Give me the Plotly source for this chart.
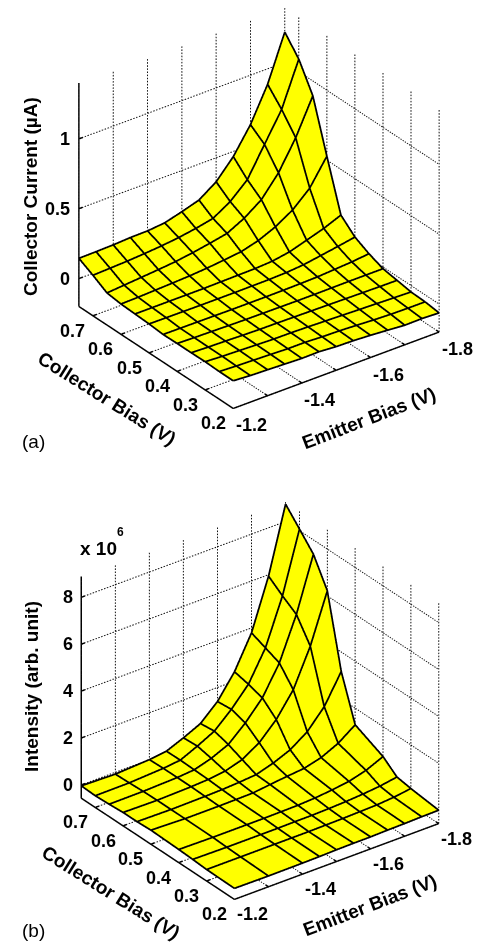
import plotly.graph_objects as go

W, H = 478, 945
FONT = "Liberation Sans"

emitter_a = [-1.2, -1.25, -1.3, -1.35, -1.4, -1.45, -1.5, -1.55, -1.6, -1.65, -1.7, -1.75, -1.8]
collector_a = [0.75, 0.7, 0.65, 0.6, 0.55, 0.5, 0.45, 0.4, 0.35, 0.3, 0.25, 0.2]
current = [
    [.145, .147, .150, .157, .159, .171, .205, .243, .328, .463, .646, .889, 1.217],
    [.090, .095, .100, .108, .118, .132, .152, .178, .253, .364, .571, .776, 1.090],
    [.030, .040, .050, .060, .072, .090, .112, .137, .200, .287, .434, .639, .894],
    [.017, .020, .025, .030, .036, .045, .058, .072, .106, .159, .234, .345, .528],
    [.012, .012, .012, .012, .012, .014, .016, .018, .025, .046, .084, .123, .173],
    [.007, .006, .005, .004, .004, .004, .005, .006, .010, .020, .040, .060, .082],
    [-.002, -.003, -.004, -.005, -.006, -.006, -.006, -.005, -.003, .000, .008, .016, .029],
    [.000, -.004, -.006, -.009, -.011, -.012, -.013, -.014, -.014, -.013, -.012, -.012, -.012],
    [.000, -.005, -.008, -.012, -.015, -.016, -.018, -.020, -.022, -.024, -.026, -.028, -.029],
    [.002, -.005, -.009, -.014, -.018, -.019, -.022, -.026, -.030, -.034, -.038, -.042, -.046],
    [-.002, -.008, -.012, -.016, -.021, -.021, -.027, -.030, -.036, -.043, -.048, -.050, -.050],
    [-.002, -.010, -.014, -.019, -.024, -.022, -.031, -.034, -.041, -.050, -.060, -.058, -.063],
]

emitter_b = [-1.2, -1.3, -1.4, -1.45, -1.5, -1.55, -1.6, -1.65, -1.7, -1.75, -1.8]
collector_b = [0.75, 0.7, 0.65, 0.6, 0.55, 0.5, 0.4, 0.35, 0.3, 0.2]
intensity = [
    [-.04, -.08, .00, .09, .39, .73, 1.40, 2.40, 3.79, 5.94, 8.74],
    [-.07, -.06, .02, .10, .43, .80, 1.46, 2.26, 3.54, 5.49, 8.07],
    [-.04, -.03, .02, .08, .30, .62, 1.27, 2.07, 3.29, 5.09, 7.39],
    [.00, -.02, .02, .06, .15, .37, .82, 1.54, 2.54, 4.13, 6.22],
    [.00, -.02, .00, .02, .06, .12, .34, .64, 1.14, 1.94, 3.17],
    [.03, -.02, -.02, -.01, .00, .09, .17, .24, .43, .77, 1.29],
    [-.01, -.03, -.03, -.03, -.02, -.01, .03, .10, .20, .40, .72],
    [-.04, -.06, -.06, -.06, -.05, -.05, -.03, .00, .05, .12, .24],
    [-.08, -.08, -.08, -.08, -.08, -.07, -.06, -.04, -.02, .04, .14],
    [-.10, -.11, -.10, -.09, -.07, -.06, -.06, -.04, -.03, -.01, .00],
]

emitter_ticks = [-1.2, -1.3, -1.4, -1.5, -1.6, -1.7, -1.8]
emitter_labels = ["-1.2", "", "-1.4", "", "-1.6", "", "-1.8"]
collector_ticks = [0.2, 0.3, 0.4, 0.5, 0.6, 0.7]
current_ticks = [0, 0.5, 1]
intensity_ticks = [0, 2, 4, 6, 8]
collector_lim = [0.2, 0.75]
emitter_lim = [-1.2, -1.8]
current_lim = [-0.2, 1.4]
intensity_lim = [-0.57, 8.89]
DOTS = 72
PAD = 0.02
EYE = (-0.521, -0.695, 0.495)


def px(x, y):
    return x / W, 1 - y / H


def seg(pieces):
    xs, ys, zs = [], [], []
    for a, b in pieces:
        xs += [a[0], b[0], None]
        ys += [a[1], b[1], None]
        zs += [a[2], b[2], None]
    return xs, ys, zs


def dotted(pieces):
    out = []
    for a, b in pieces:
        for k in range(DOTS):
            t0, t1 = k / DOTS, (k + 0.5) / DOTS
            out.append((tuple(a[m] + (b[m] - a[m]) * t0 for m in range(3)),
                        tuple(a[m] + (b[m] - a[m]) * t1 for m in range(3))))
    return out


def line_trace(pieces, scene, width, color="black"):
    x, y, z = seg(pieces)
    return go.Scatter3d(x=x, y=y, z=z, mode="lines", scene=scene, showlegend=False, hoverinfo="skip",
                        line=dict(color=color, width=width), connectgaps=False)


def panel(fig, scene, E, C, Z, zticks, zlim):
    e0, e1 = emitter_lim
    c0, c1 = collector_lim
    z0, z1 = zlim
    grid = []
    for e in emitter_ticks:
        grid.append(((e, c1, z0), (e, c1, z1)))
        grid.append(((e, c0, z0), (e, c1, z0)))
    for c in collector_ticks:
        grid.append(((e1, c, z0), (e1, c, z1)))
        grid.append(((e0, c, z0), (e1, c, z0)))
    for z in zticks:
        grid.append(((e0, c1, z), (e1, c1, z)))
        grid.append(((e1, c1, z), (e1, c0, z)))
    fig.add_trace(line_trace(dotted(grid), scene, 2, "#111111"))

    de = (e1 - e0) * 0.018
    dc = (c1 - c0) * 0.018
    axes = [((e0, c1, z0), (e0, c1, z1)), ((e0, c1, z0), (e0, c0, z0)), ((e0, c0, z0), (e1, c0, z0))]
    for e in emitter_ticks:
        axes.append(((e, c0, z0), (e, c0 + dc, z0)))
    for c in collector_ticks:
        axes.append(((e0, c, z0), (e0 + de, c, z0)))
    for z in zticks:
        axes.append(((e0, c1, z), (e0 + de, c1, z)))
    fig.add_trace(line_trace(axes, scene, 3))

    fig.add_trace(go.Surface(x=E, y=C, z=Z, scene=scene, showscale=False, hoverinfo="skip",
                             colorscale=[[0, "#ffff00"], [1, "#ffff00"]],
                             lighting=dict(ambient=1, diffuse=0, specular=0, roughness=1, fresnel=0)))

    # mesh drawn a hair toward the viewer so it never sinks into the surface
    eps = 0.008
    ox = -EYE[0] * eps * (e0 - e1)
    oy = -EYE[1] * eps * (c0 - c1)
    oz = EYE[2] * eps * (z1 - z0)

    def P(i, j):
        return (E[i] + ox, C[j] + oy, Z[j][i] + oz)
    mesh = []
    for j in range(len(C)):
        for i in range(len(E) - 1):
            mesh.append((P(i, j), P(i + 1, j)))
    for i in range(len(E)):
        for j in range(len(C) - 1):
            mesh.append((P(i, j), P(i, j + 1)))
    fig.add_trace(line_trace(mesh, scene, 3.5))


def scene_layout(domain_px, ztickvals, zlim, zshift, cshift, eshift, k):
    x0, x1, y0, y1 = domain_px
    ax = dict(visible=False, showgrid=False, zeroline=False, showspikes=False)
    notes = []
    tf = dict(family=FONT, size=18, color="black", weight="bold")
    for e, t in zip(emitter_ticks, emitter_labels):
        if t:
            notes.append(dict(x=e, y=collector_lim[0], z=zlim[0], text=f"<b>{t}</b>", showarrow=False, font=tf,
                              xshift=eshift[0], yshift=eshift[1]))
    for c in collector_ticks:
        notes.append(dict(x=emitter_lim[0], y=c, z=zlim[0], text=f"<b>{c:.1f}</b>", showarrow=False, font=tf,
                          xshift=cshift[0], yshift=cshift[1]))
    for z in ztickvals:
        notes.append(dict(x=emitter_lim[0], y=collector_lim[1], z=z, text=f"<b>{z:g}</b>", showarrow=False,
                          font=tf, xanchor="right", xshift=zshift))
    eye_r = 2.5

    def padded(lim):
        d = (lim[1] - lim[0]) * PAD
        return [lim[0] - d, lim[1] + d]
    kk = k * (1 + 2 * PAD)
    return dict(
        domain=dict(x=[x0 / W, x1 / W], y=[1 - y1 / H, 1 - y0 / H]),
        xaxis=dict(range=padded(emitter_lim), **ax),
        yaxis=dict(range=padded(collector_lim), **ax),
        zaxis=dict(range=padded(zlim), **ax),
        aspectmode="manual",
        aspectratio=dict(x=kk, y=kk, z=kk),
        dragmode=False,
        annotations=notes,
        camera=dict(projection=dict(type="orthographic"),
                    center=dict(x=0, y=0, z=0),
                    up=dict(x=0, y=0, z=1),
                    eye=dict(x=EYE[0] * eye_r, y=EYE[1] * eye_r, z=EYE[2] * eye_r)),
    )


fig = go.Figure()
panel(fig, "scene", emitter_a, collector_a, current, current_ticks, current_lim)
panel(fig, "scene2", emitter_b, collector_b, intensity, intensity_ticks, intensity_lim)

title_font = dict(family=FONT, size=19, color="black", weight="bold")
letter_font = dict(family=FONT, size=19, color="black")


def note(x, y, text, angle=0, font=title_font):
    a, b = px(x, y)
    return dict(x=a, y=b, xref="paper", yref="paper", text=text, textangle=angle, showarrow=False, font=font,
                xanchor="center", yanchor="middle")


fig.update_layout(
    width=W, height=H, autosize=False, margin=dict(l=0, r=0, t=0, b=0),
    paper_bgcolor="white", showlegend=False,
    scene=scene_layout((40, 478, 0, 415), current_ticks, current_lim, -7, (-20, -15), (18, -17), 1.24),
    scene2=scene_layout((42, 478, 470, 930), intensity_ticks, intensity_lim, -6, (-20, -15), (18, -15), 1.11),
    annotations=[
        note(30, 197, "<b>Collector Current (µA)</b>", -90),
        note(107, 398, "<b>Collector Bias (V)</b>", 32),
        note(368, 418, "<b>Emitter Bias (V)</b>", -21),
        note(33, 441, "(a)", 0, letter_font),
        note(31, 687, "<b>Intensity (arb. unit)</b>", -90),
        note(98, 548, "<b>x 10</b>"),
        note(120, 532, "<b>6</b>", 0, dict(family=FONT, size=12, color="black", weight="bold")),
        note(111, 892, "<b>Collector Bias (V)</b>", 32),
        note(369, 905, "<b>Emitter Bias (V)</b>", -21),
        note(33, 930, "(b)", 0, letter_font),
    ],
)

fig.write_html("out.html", config=dict(displayModeBar=False),
               post_script="document.body.style.margin='0';document.body.style.overflow='hidden';")
